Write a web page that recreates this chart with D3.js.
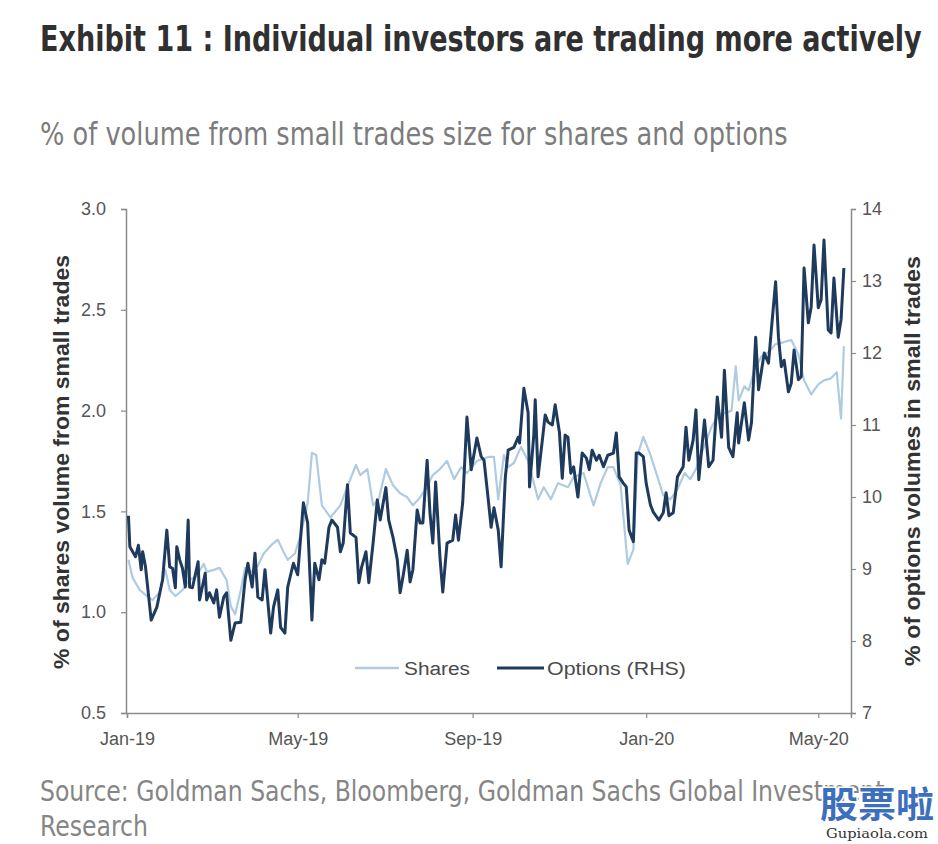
<!DOCTYPE html>
<html>
<head>
<meta charset="utf-8">
<script src="https://cdn.jsdelivr.net/npm/d3@7"></script>
<style>
  html, body { margin: 0; padding: 0; background: #ffffff; }
  svg { display: block; }
</style>
</head>
<body>
<svg id="chart" width="938" height="844"></svg>
<script>
// ---------------- DATA ----------------
const optionsDates = ["2019-01-02","2019-01-03","2019-01-07","2019-01-09","2019-01-11","2019-01-12","2019-01-14","2019-01-18","2019-01-22","2019-01-26","2019-01-29","2019-01-31",
"2019-02-02","2019-02-04","2019-02-05","2019-02-07","2019-02-09","2019-02-11","2019-02-13","2019-02-14","2019-02-16","2019-02-20","2019-02-21","2019-02-25","2019-02-26","2019-02-28",
"2019-03-03","2019-03-05","2019-03-07","2019-03-10","2019-03-12","2019-03-15","2019-03-18","2019-03-22","2019-03-25","2019-03-27","2019-03-30",
"2019-04-01","2019-04-03","2019-04-06","2019-04-08","2019-04-12","2019-04-14","2019-04-17","2019-04-19","2019-04-22","2019-04-24","2019-04-28",
"2019-05-01","2019-05-05","2019-05-08","2019-05-11","2019-05-13","2019-05-16","2019-05-18","2019-05-20","2019-05-23","2019-05-25","2019-05-29","2019-05-31",
"2019-06-02","2019-06-05","2019-06-07","2019-06-11","2019-06-13","2019-06-15","2019-06-18","2019-06-20","2019-06-23","2019-06-26","2019-06-28",
"2019-07-02","2019-07-04","2019-07-07","2019-07-10","2019-07-12","2019-07-14","2019-07-17","2019-07-19","2019-07-21","2019-07-24","2019-07-26","2019-07-28","2019-07-31",
"2019-08-02","2019-08-04","2019-08-06","2019-08-09","2019-08-11","2019-08-14","2019-08-18","2019-08-20","2019-08-22","2019-08-25","2019-08-28","2019-08-31",
"2019-09-04","2019-09-07","2019-09-09","2019-09-12","2019-09-14","2019-09-16","2019-09-19","2019-09-21","2019-09-24","2019-09-26","2019-09-30",
"2019-10-03","2019-10-04","2019-10-07","2019-10-10","2019-10-11","2019-10-14","2019-10-15","2019-10-17","2019-10-20","2019-10-22","2019-10-24","2019-10-27","2019-10-29",
"2019-11-01","2019-11-03","2019-11-05","2019-11-07","2019-11-09","2019-11-11","2019-11-14","2019-11-17","2019-11-20","2019-11-22","2019-11-24","2019-11-27","2019-11-29",
"2019-12-02","2019-12-05","2019-12-09","2019-12-11","2019-12-13","2019-12-16","2019-12-18","2019-12-20","2019-12-23","2019-12-25","2019-12-27","2019-12-30",
"2020-01-01","2020-01-04","2020-01-06","2020-01-10","2020-01-13","2020-01-15","2020-01-17","2020-01-20","2020-01-23","2020-01-27","2020-01-29","2020-01-31",
"2020-02-03","2020-02-05","2020-02-07","2020-02-11","2020-02-14","2020-02-17","2020-02-20","2020-02-23","2020-02-25","2020-02-28",
"2020-03-02","2020-03-05","2020-03-06","2020-03-10","2020-03-13","2020-03-15","2020-03-18","2020-03-20","2020-03-24","2020-03-27","2020-03-29",
"2020-04-01","2020-04-03","2020-04-05","2020-04-07","2020-04-10","2020-04-12","2020-04-14","2020-04-17","2020-04-19","2020-04-21","2020-04-24","2020-04-26","2020-04-28",
"2020-05-01","2020-05-03","2020-05-05","2020-05-08","2020-05-10","2020-05-12","2020-05-15","2020-05-17","2020-05-19"];

const optionsValues = [9.74,9.31,9.17,9.33,8.99,9.24,9.03,8.29,8.47,8.85,9.54,9.03,
9.01,8.74,9.31,9.13,9.01,8.75,9.68,8.75,8.74,9.10,8.57,8.94,8.57,8.67,
8.53,8.71,8.33,8.61,8.67,8.01,8.25,8.26,8.85,9.08,8.75,
9.22,8.61,8.57,8.99,8.11,8.47,8.71,8.19,8.11,8.75,9.08,
8.92,9.92,9.64,8.29,9.08,8.85,9.13,9.08,9.58,9.68,9.58,9.24,
9.36,10.17,9.50,9.44,8.81,9.03,9.24,8.81,9.36,9.96,9.68,
10.13,9.68,9.44,9.13,8.67,8.89,9.26,8.82,8.99,9.82,9.64,9.64,10.51,
9.78,9.36,10.21,9.17,8.68,9.36,9.40,9.75,9.40,9.92,11.11,10.38,
10.82,10.56,10.51,9.96,9.58,9.85,9.54,9.03,10.28,10.65,10.69,
10.83,10.75,11.51,11.17,10.14,10.86,11.35,10.28,10.79,11.14,11.04,11.00,11.28,
10.90,10.26,10.86,10.83,10.33,10.42,10.00,10.61,10.54,10.38,10.65,10.51,10.58,
10.42,10.58,10.61,10.89,10.28,10.19,10.14,9.54,9.38,10.61,10.61,10.56,
10.19,9.89,9.79,9.68,9.78,10.06,9.74,9.78,10.28,10.42,10.97,10.51,
10.79,11.21,10.24,11.07,10.42,10.51,11.39,10.83,11.76,10.69,
10.56,11.17,10.75,11.31,10.79,11.03,12.22,11.49,12.00,11.86,12.32,
12.99,12.22,11.81,11.90,11.46,11.58,12.04,11.63,11.67,13.18,12.42,12.64,13.50,
12.63,12.74,13.57,12.32,12.28,13.04,12.22,12.46,13.18];

const sharesDates = ["2019-01-02","2019-01-05","2019-01-10","2019-01-15","2019-01-19","2019-01-24","2019-01-28","2019-01-31",
"2019-02-04","2019-02-09","2019-02-14","2019-02-19","2019-02-24","2019-02-26",
"2019-03-03","2019-03-07","2019-03-12","2019-03-15","2019-03-18","2019-03-22","2019-03-25","2019-03-30",
"2019-04-03","2019-04-07","2019-04-12","2019-04-17","2019-04-21","2019-04-24","2019-04-29",
"2019-05-03","2019-05-08","2019-05-11","2019-05-14","2019-05-18","2019-05-24","2019-05-31",
"2019-06-07","2019-06-11","2019-06-14","2019-06-19","2019-06-23","2019-06-27",
"2019-07-02","2019-07-07","2019-07-12","2019-07-17","2019-07-21","2019-07-25","2019-07-30",
"2019-08-04","2019-08-09","2019-08-14","2019-08-19","2019-08-24","2019-08-28",
"2019-09-04","2019-09-12","2019-09-16","2019-09-19","2019-09-23","2019-09-26","2019-09-30",
"2019-10-05","2019-10-10","2019-10-17","2019-10-21","2019-10-26","2019-10-31",
"2019-11-07","2019-11-11","2019-11-18","2019-11-25","2019-11-30",
"2019-12-05","2019-12-09","2019-12-14","2019-12-19","2019-12-23","2019-12-26","2019-12-30",
"2020-01-04","2020-01-09","2020-01-13","2020-01-18","2020-01-23","2020-01-28",
"2020-02-01","2020-02-05","2020-02-09","2020-02-16","2020-02-21","2020-02-26",
"2020-03-01","2020-03-04","2020-03-06","2020-03-10","2020-03-13","2020-03-17","2020-03-22","2020-03-27",
"2020-04-01","2020-04-07","2020-04-12","2020-04-17","2020-04-21","2020-04-26",
"2020-05-01","2020-05-05","2020-05-10","2020-05-14","2020-05-17","2020-05-19"];

const sharesValues = [1.26,1.17,1.11,1.08,1.06,1.10,1.21,1.11,
1.08,1.11,1.16,1.18,1.24,1.20,
1.21,1.22,1.16,1.03,0.99,1.11,1.22,1.20,
1.23,1.29,1.33,1.36,1.30,1.26,1.29,
1.38,1.54,1.79,1.78,1.53,1.47,1.53,
1.66,1.73,1.68,1.71,1.53,1.56,
1.71,1.63,1.59,1.57,1.53,1.56,1.61,
1.68,1.71,1.75,1.66,1.72,1.69,
1.75,1.77,1.77,1.56,1.78,1.72,1.74,
1.82,1.75,1.56,1.62,1.56,1.64,
1.62,1.67,1.69,1.53,1.64,
1.72,1.72,1.63,1.24,1.31,1.78,1.87,
1.78,1.67,1.58,1.56,1.61,1.69,
1.66,1.71,1.79,1.92,1.98,1.99,
2.00,2.22,2.05,2.12,2.10,2.20,2.27,2.29,
2.33,2.34,2.35,2.28,2.15,2.08,
2.13,2.15,2.16,2.19,1.96,2.32];

const leftTicks = [0.5, 1.0, 1.5, 2.0, 2.5, 3.0];
const rightTicks = [7, 8, 9, 10, 11, 12, 13, 14];
const xTickDates = ["2019-01-01","2019-05-01","2019-09-01","2020-01-01","2020-05-01"];
const xDomain = ["2019-01-01","2020-05-24"];
const seriesNames = ["Shares", "Options (RHS)"];

const titleText = "Exhibit 11 : Individual investors are trading more actively";
const subtitleText = "% of volume from small trades size for shares and options";
const leftLabel = "% of shares volume from small trades";
const rightLabel = "% of options volumes in small trades";
const sourceLines = ["Source: Goldman Sachs, Bloomberg, Goldman Sachs Global Investment", "Research"];

// ---------------- DRAW ----------------
const parse = d3.timeParse("%Y-%m-%d");
const svg = d3.select("#chart");

const plot = { left: 126, right: 851, top: 209, bottom: 713 };
const cShares = "#aecbe2";
const cOptions = "#1e3a5c";
const axisColor = "#8a8a8a";
const tickText = "#555555";
const sans = "'Liberation Sans',Arial,'DejaVu Sans',sans-serif";
const cond = "'DejaVu Sans Condensed','Liberation Sans Narrow','DejaVu Sans',sans-serif";

const x = d3.scaleTime().domain(xDomain.map(parse)).range([plot.left + 1, plot.right]);
const yL = d3.scaleLinear().domain([0.5, 3.0]).range([plot.bottom, plot.top]);
const yR = d3.scaleLinear().domain([7, 14]).range([plot.bottom, plot.top]);

// Horizontally fitted text (condensed look) via measured scale
function fitText(txt, x0, y0, width, opts) {
  const g = svg.append("g");
  const t = g.append("text").attr("x", 0).attr("y", 0)
    .attr("font-family", opts.family).attr("font-size", opts.size)
    .attr("font-weight", opts.weight || "normal").attr("fill", opts.fill)
    .text(txt);
  const w = t.node().getComputedTextLength();
  g.attr("transform", `translate(${x0},${y0}) scale(${width / w},1)`);
  return t;
}

// Title & subtitle
fitText(titleText, 40, 51, 882, { family: cond, size: 36, weight: "bold", fill: "#303030" });
fitText(subtitleText, 40, 145, 748, { family: cond, size: 32, fill: "#7c7c7c" });

// Axes
const gL = svg.append("g").attr("transform", `translate(${plot.left},0)`)
  .call(d3.axisLeft(yL).tickValues(leftTicks).tickFormat(d3.format(".1f")).tickSizeOuter(0).tickSize(5).tickPadding(15));
const gR = svg.append("g").attr("transform", `translate(${plot.right},0)`)
  .call(d3.axisRight(yR).tickValues(rightTicks).tickFormat(d3.format("d")).tickSizeOuter(0).tickSize(5).tickPadding(6));
const gX = svg.append("g").attr("transform", `translate(0,${plot.bottom})`)
  .call(d3.axisBottom(x).tickValues(xTickDates.map(parse)).tickFormat(d3.timeFormat("%b-%y")).tickSizeOuter(0).tickSize(5).tickPadding(10));

[gL, gR, gX].forEach(g => {
  g.select(".domain").attr("stroke", axisColor).attr("stroke-width", 1.5);
  g.selectAll(".tick line").attr("stroke", axisColor).attr("stroke-width", 1.2);
  g.selectAll(".tick text").attr("fill", tickText).attr("font-family", sans).attr("font-size", 18);
});
gX.selectAll(".tick text").attr("dy", "0.95em");

// Axis titles
svg.append("text")
  .attr("transform", `translate(69,${(plot.top + plot.bottom) / 2 + 1}) rotate(-90)`)
  .attr("text-anchor", "middle").attr("font-family", sans).attr("font-weight", "bold")
  .attr("font-size", 22).attr("fill", "#333333")
  .attr("textLength", 414).attr("lengthAdjust", "spacingAndGlyphs")
  .text(leftLabel);
svg.append("text")
  .attr("transform", `translate(920,${(plot.top + plot.bottom) / 2}) rotate(-90)`)
  .attr("text-anchor", "middle").attr("font-family", sans).attr("font-weight", "bold")
  .attr("font-size", 22).attr("fill", "#333333")
  .attr("textLength", 410).attr("lengthAdjust", "spacingAndGlyphs")
  .text(rightLabel);

// Lines
const sharesData = sharesDates.map((d, i) => ({ date: parse(d), value: sharesValues[i] }));
const optionsData = optionsDates.map((d, i) => ({ date: parse(d), value: optionsValues[i] }));

svg.append("path").datum(sharesData)
  .attr("fill", "none").attr("stroke", cShares).attr("stroke-width", 2.2)
  .attr("stroke-linejoin", "round")
  .attr("d", d3.line().x(d => x(d.date)).y(d => yL(d.value)));
svg.append("path").datum(optionsData)
  .attr("fill", "none").attr("stroke", cOptions).attr("stroke-width", 3)
  .attr("stroke-linejoin", "round")
  .attr("d", d3.line().x(d => x(d.date)).y(d => yR(d.value)));

// Legend
const legend = svg.append("g").attr("transform", "translate(0,668)");
const legendItems = [
  { name: seriesNames[0], color: cShares, w: 2.5, x0: 355, x1: 399, tx: 404, tl: 66 },
  { name: seriesNames[1], color: cOptions, w: 3, x0: 497, x1: 544, tx: 547, tl: 139 }
];
legendItems.forEach(it => {
  legend.append("line").attr("x1", it.x0).attr("x2", it.x1).attr("y1", 0).attr("y2", 0)
    .attr("stroke", it.color).attr("stroke-width", it.w);
  legend.append("text").attr("x", it.tx).attr("y", 6.5)
    .attr("font-family", sans).attr("font-size", 18).attr("fill", "#4a4a4a")
    .attr("textLength", it.tl).attr("lengthAdjust", "spacingAndGlyphs")
    .text(it.name);
});

// Source
fitText(sourceLines[0], 40, 801, 845, { family: cond, size: 28, fill: "#858585" });
fitText(sourceLines[1], 40, 836, 108, { family: cond, size: 28, fill: "#858585" });

// Watermark
svg.append("text").attr("x", 820).attr("y", 818)
  .attr("font-family", "'Noto Sans CJK SC',sans-serif").attr("font-weight", "bold")
  .attr("font-size", 36).attr("fill", "#3d6fbf")
  .attr("stroke", "#ffffff").attr("stroke-width", 3).attr("paint-order", "stroke")
  .attr("textLength", 114).attr("lengthAdjust", "spacingAndGlyphs")
  .text("股票啦");
svg.append("text").attr("x", 826).attr("y", 838)
  .attr("font-family", "'DejaVu Serif','Liberation Serif',serif")
  .attr("font-size", 12).attr("fill", "#333333")
  .attr("textLength", 102).attr("lengthAdjust", "spacingAndGlyphs")
  .text("Gupiaola.com");
</script>
</body>
</html>
